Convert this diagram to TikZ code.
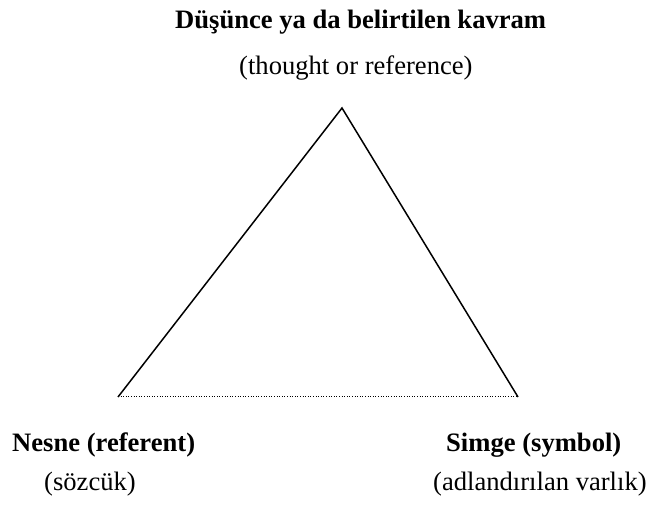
\documentclass[tikz,border=0pt]{standalone}
\usepackage{fontspec}
\setmainfont{Liberation Serif}
\usepackage{tikz}
\usetikzlibrary{positioning}
\tikzset{
  lbl/.style={inner sep=0pt,anchor=base west,font=\fontsize{26.6}{30}\selectfont},
  head/.style={lbl,font=\fontsize{26.6}{30}\selectfont\bfseries},
  side/.style={line width=1.5pt,draw=black},
  base/.style={line width=1pt,draw=black,dash pattern=on 1pt off 1.6pt},
}
\begin{document}
\begin{tikzpicture}[x=1pt,y=-1pt]
  \useasboundingbox (0,0) rectangle (649,505);
  % corners of the triangle
  \coordinate (top) at (342,108);
  \coordinate (left) at (118,397);
  \coordinate (right) at (518,397);

  \draw[side] (left) -- (top) -- (right);
  \draw[base] (left) -- (right);

  \node[head] (thought) at (175,29) {Düşünce ya da belirtilen kavram};
  \node[lbl] (thoughten) at (239,75) {(thought or reference)};
  \node[head] (referent) at (12,452) {Nesne (referent)};
  \node[lbl] (referenttr) at (44,491) {(sözcük)};
  \node[head] (symbol) at (446,452) {Simge (symbol)};
  \node[lbl] (symboltr) at (433,491) {(adlandırılan varlık)};
\end{tikzpicture}
\end{document}
